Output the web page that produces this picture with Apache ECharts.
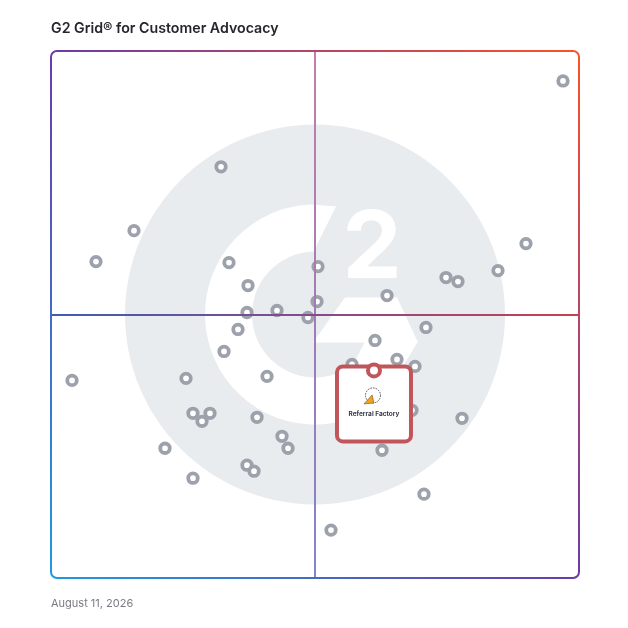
<!DOCTYPE html>
<html>
<head>
<meta charset="utf-8">
<script src="https://cdn.jsdelivr.net/npm/echarts@6/dist/echarts.min.js"></script>
<style>
  html, body { margin: 0; padding: 0; background: #fff; }
  #chart { width: 628px; height: 628px; }
</style>
</head>
<body>
<div id="chart"></div>
<script>
// ---- Data (0–100 scale on both axes; quadrant split at 50) ----
const chartTitle = 'G2 Grid® for Customer Advocacy';
const dateText = 'August 11, 2026';

const vendorX = [96.97, 32.2, 15.72, 8.52, 33.71, 50.57, 89.96, 84.66, 74.81, 77.08,
                 37.31, 63.64, 50.38, 42.8, 37.12, 48.67, 71.02, 35.42, 61.36, 32.77,
                 3.98, 25.57, 40.91, 57.01, 65.53, 68.94, 68.37, 77.84, 26.89, 30.11,
                 28.6, 39.02, 43.75, 44.89, 21.59, 62.69, 37.12, 38.45, 26.89, 70.64, 53.03];
const vendorY = [94.32, 78.03, 65.91, 60.04, 59.85, 59.09, 63.45, 58.33, 57.01, 56.25,
                 55.49, 53.6, 52.46, 50.76, 50.38, 49.43, 47.54, 47.16, 45.08, 42.99,
                 37.5, 37.88, 38.26, 40.53, 41.48, 40.15, 31.82, 30.3, 31.25, 31.25,
                 29.73, 30.49, 26.89, 24.62, 24.62, 24.24, 21.4, 20.27, 18.94, 15.91, 9.09];

const highlightName = 'Referral Factory';
const highlightX = [61.17];
const highlightY = [39.39];

const quadrantSplit = 50;
const axisMin = 0;
const axisMax = 100;

// ---- Build ----
const vendorData = vendorX.map((x, i) => [x, vendorY[i]]);
const highlightData = highlightX.map((x, i) => [x, highlightY[i]]);

const chart = echarts.init(document.getElementById('chart'), null, { renderer: 'canvas' });

const hLineGrad = new echarts.graphic.LinearGradient(0, 0, 1, 0, [
  { offset: 0, color: '#3d5db4' },
  { offset: 0.5, color: '#87498a' },
  { offset: 1, color: '#c9404f' }
]);
const vLineGrad = new echarts.graphic.LinearGradient(0, 0, 0, 1, [
  { offset: 0, color: '#c47fa7' },
  { offset: 0.5, color: '#a27ab6' },
  { offset: 1, color: '#8086cc' }
]);

const option = {
  animation: false,
  backgroundColor: '#ffffff',
  textStyle: { fontFamily: 'Inter, "Noto Sans", sans-serif' },
  title: [
    {
      text: chartTitle, left: 51, top: 22, padding: 0,
      textStyle: { fontFamily: 'Inter', fontSize: 14.2, fontWeight: 600, color: '#25252e' }
    },
    {
      text: dateText, left: 51, top: 598, padding: 0,
      textStyle: { fontFamily: 'Inter', fontSize: 11, fontWeight: 'normal', color: '#7a7b82' }
    }
  ],
  grid: { left: 51, top: 51, width: 528, height: 527, containLabel: false },
  xAxis: {
    type: 'value', min: axisMin, max: axisMax,
    axisLine: { show: false }, axisTick: { show: false },
    axisLabel: { show: false }, splitLine: { show: false }
  },
  yAxis: {
    type: 'value', min: axisMin, max: axisMax,
    axisLine: { show: false }, axisTick: { show: false },
    axisLabel: { show: false }, splitLine: { show: false }
  },
  series: [
    {
      type: 'scatter', z: 1, silent: true, data: [],
      markLine: {
        silent: true, symbol: 'none', animation: false,
        label: { show: false },
        data: [
          { xAxis: quadrantSplit, lineStyle: { color: vLineGrad, width: 2, type: 'solid', opacity: 1 } },
          { yAxis: quadrantSplit, lineStyle: { color: hLineGrad, width: 2, type: 'solid', opacity: 1 } }
        ]
      }
    },
    {
      type: 'scatter', z: 3, silent: true,
      data: vendorData,
      symbol: 'circle', symbolSize: 9.5,
      itemStyle: { color: '#ffffff', borderColor: '#9ca1ab', borderWidth: 3.8, opacity: 1 }
    },
    {
      type: 'scatter', z: 4, silent: true,
      data: highlightData,
      symbol: 'circle', symbolSize: 12,
      itemStyle: { color: 'transparent', borderWidth: 0, opacity: 1 },
      label: {
        show: true,
        opacity: 1,
        position: ['50%', '50%'],
        offset: [0, -2],
        align: 'center',
        verticalAlign: 'top',
        formatter: highlightName,
        width: 70,
        padding: [41, 0, 20, 0],
        lineHeight: 10,
        fontSize: 6.5,
        fontWeight: 'bold',
        fontFamily: 'Inter',
        color: '#353a4a',
        backgroundColor: '#ffffff',
        borderColor: '#c0565b',
        borderWidth: 4,
        borderRadius: 4
      }
    },
    {
      type: 'scatter', z: 5, silent: true,
      data: highlightData,
      symbol: 'circle', symbolSize: 15, symbolOffset: [-1, 25],
      itemStyle: { color: '#ffffff', borderColor: '#3f4452', borderWidth: 0.9, borderType: [1.6, 1.1], opacity: 1 }
    },
    {
      type: 'scatter', z: 6, silent: true,
      data: highlightData,
      symbol: 'path://M0,20 L22,18 L18,0 Z', symbolSize: [10, 9], symbolOffset: [-5, 29],
      itemStyle: { color: '#f5a21b', borderColor: '#5b3f12', borderWidth: 0.5, opacity: 1 }
    },
    {
      type: 'scatter', z: 7, silent: true,
      data: highlightData,
      symbol: 'circle', symbolSize: 12,
      itemStyle: { color: '#ffffff', borderColor: '#c0565b', borderWidth: 4, opacity: 1 }
    }
  ]
};

chart.setOption(option);

// ---- Decorative G2 watermark + gradient frame, positioned from the axes ----
const c = chart.convertToPixel({ gridIndex: 0 }, [quadrantSplit, quadrantSplit]);
const p0 = chart.convertToPixel({ gridIndex: 0 }, [axisMin, axisMax]);
const p1 = chart.convertToPixel({ gridIndex: 0 }, [axisMax, axisMin]);
const u = (p1[0] - p0[0]) / 528;
const P = (dx, dy) => [c[0] + dx * u, c[1] + dy * u];
const deg = (a) => a * Math.PI / 180;
const wm = '#e9ecef';

chart.setOption({
  graphic: [
    { type: 'circle', z: 0, silent: true, shape: { cx: c[0], cy: c[1], r: 190 * u }, style: { fill: wm } },
    { type: 'sector', z: 0, silent: true,
      shape: { cx: c[0], cy: c[1], r0: 63 * u, r: 110 * u, startAngle: deg(60), endAngle: deg(268), clockwise: true },
      style: { fill: '#ffffff' } },
    { type: 'polygon', z: 0, silent: true,
      shape: { points: [P(-2, -62), P(-4, -110), P(21, -108)] }, style: { fill: '#ffffff' } },
    { type: 'polygon', z: 0, silent: true,
      shape: { points: [P(30, -17), P(82, -17), P(103, 28), P(-2, 28)] }, style: { fill: '#ffffff' } },
    { type: 'polygon', z: 0, silent: true,
      shape: { points: [P(50, 27), P(103, 27), P(60, 98), P(28, 70)] }, style: { fill: '#ffffff' } },
    { type: 'text', z: 0, silent: true, x: c[0] + 57 * u, y: c[1] - 65 * u,
      style: { text: '2', fill: '#ffffff', font: 'bold ' + (94 * u) + 'px Inter', align: 'center', verticalAlign: 'middle' } },
    { type: 'rect', z: 10, silent: true,
      shape: { x: p0[0], y: p0[1], width: p1[0] - p0[0], height: p1[1] - p0[1], r: 6 },
      style: {
        fill: 'none', lineWidth: 2,
        stroke: new echarts.graphic.LinearGradient(1, 0, 0, 1, [
          { offset: 0, color: '#ff5126' },
          { offset: 0.5, color: '#6b3ba8' },
          { offset: 1, color: '#1e9be0' }
        ])
      } }
  ]
});
</script>
</body>
</html>
